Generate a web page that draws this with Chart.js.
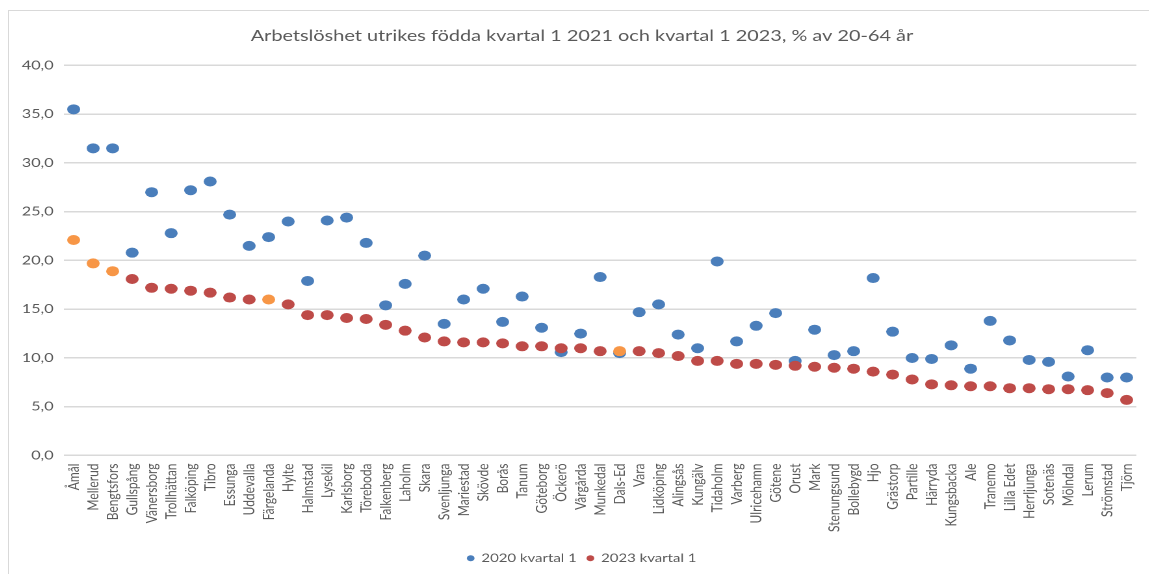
<!DOCTYPE html>
<html>
<head>
<meta charset="utf-8">
<script src="https://cdn.jsdelivr.net/npm/chart.js@4.4.0/dist/chart.umd.min.js"></script>
<style>
  html, body { margin: 0; padding: 0; background: #ffffff; overflow: hidden; width: 1149px; height: 574px; }
  #frame { position: absolute; left: 8px; top: 10px; width: 2000px; height: 1000px;
           border-left: 1.5px solid #d9d9d9; border-top: 1.5px solid #d9d9d9; }
  #wrap { position: absolute; left: 8px; top: 10px; width: 883px; height: 564px;
          transform: scaleX(1.3); transform-origin: 0 0; }
</style>
</head>
<body>
<div id="frame"></div>
<div id="wrap"><canvas id="c"></canvas></div>
<script>
const chartTitle = "Arbetslöshet utrikes födda kvartal 1 2021 och kvartal 1 2023, % av 20-64 år";
const categories = ["Åmål","Mellerud","Bengtsfors","Gullspång","Vänersborg","Trollhättan","Falköping","Tibro","Essunga","Uddevalla","Färgelanda","Hylte","Halmstad","Lysekil","Karlsborg","Töreboda","Falkenberg","Laholm","Skara","Svenljunga","Mariestad","Skövde","Borås","Tanum","Göteborg","Öckerö","Vårgårda","Munkedal","Dals-Ed","Vara","Lidköping","Alingsås","Kungälv","Tidaholm","Varberg","Ulricehamn","Götene","Orust","Mark","Stenungsund","Bollebygd","Hjo","Grästorp","Partille","Härryda","Kungsbacka","Ale","Tranemo","Lilla Edet","Herrljunga","Sotenäs","Mölndal","Lerum","Strömstad","Tjörn"];
const seriesNames = ["2020 kvartal 1", "2023 kvartal 1"];
const values2020 = [35.5,31.5,31.5,20.8,27.0,22.8,27.2,28.1,24.7,21.5,22.4,24.0,17.9,24.1,24.4,21.8,15.4,17.6,20.5,13.5,16.0,17.1,13.7,16.3,13.1,10.6,12.5,18.3,10.5,14.7,15.5,12.4,11.0,19.9,11.7,13.3,14.6,9.7,12.9,10.3,10.7,18.2,12.7,10.0,9.9,11.3,8.9,13.8,11.8,9.8,9.6,8.1,10.8,8.0,8.0];
const values2023 = [22.1,19.7,18.9,18.1,17.2,17.1,16.9,16.7,16.2,16.0,16.0,15.5,14.4,14.4,14.1,14.0,13.4,12.8,12.1,11.7,11.6,11.6,11.5,11.2,11.2,11.0,11.0,10.7,10.7,10.7,10.5,10.2,9.7,9.7,9.4,9.4,9.3,9.2,9.1,9.0,8.9,8.6,8.3,7.8,7.3,7.2,7.1,7.1,6.9,6.9,6.8,6.8,6.7,6.4,5.7];
const highlighted = ["Åmål","Mellerud","Bengtsfors","Färgelanda","Dals-Ed"];
const yTicks = [0,5,10,15,20,25,30,35,40];

const blue = "#4a7ebb", red = "#be4b48", orange = "#f79646";
const seriesColors = [blue, red];
const colors2023 = categories.map(c => highlighted.includes(c) ? orange : red);
const fontFamily = "Lato, 'Open Sans', sans-serif";
const textColor = "#595959";

new Chart(document.getElementById("c"), {
  type: "line",
  data: {
    labels: categories,
    datasets: [
      { label: seriesNames[0], data: values2020, showLine: false, order: 1,
        pointRadius: 5, pointHoverRadius: 5, pointBorderWidth: 0,
        backgroundColor: blue, borderColor: blue, pointBackgroundColor: blue, pointBorderColor: blue },
      { label: seriesNames[1], data: values2023, showLine: false, order: 0,
        pointRadius: 5, pointHoverRadius: 5, pointBorderWidth: 0,
        backgroundColor: red, borderColor: red, pointBackgroundColor: colors2023, pointBorderColor: colors2023 }
    ]
  },
  options: {
    responsive: true,
    maintainAspectRatio: false,
    animation: false,
    devicePixelRatio: 2,
    layout: { padding: { left: 0, right: 0, top: 0, bottom: 0 } },
    plugins: {
      tooltip: { enabled: false },
      title: {
        display: true, text: chartTitle, color: textColor,
        font: { family: fontFamily, size: 15.3, weight: "normal", lineHeight: 1.2 },
        padding: { top: 16.8, bottom: 20.3 }
      },
      legend: {
        position: "bottom",
        labels: {
          usePointStyle: true, pointStyle: "circle", boxWidth: 5, boxHeight: 4.2,
          padding: 8, color: textColor,
          font: { family: fontFamily, size: 11.5 },
          sort: (a, b) => a.datasetIndex - b.datasetIndex,
          generateLabels: (chart) => Chart.defaults.plugins.legend.labels.generateLabels(chart)
            .map(l => Object.assign(l, { fillStyle: seriesColors[l.datasetIndex], strokeStyle: seriesColors[l.datasetIndex], lineWidth: 0 }))
        }
      }
    },
    scales: {
      x: {
        type: "category",
        offset: true,
        grid: { display: false, drawTicks: false },
        border: { display: false },
        ticks: { autoSkip: false, maxRotation: 90, minRotation: 90, padding: 8, color: textColor,
                 font: { family: fontFamily, size: 12 } },
        afterFit: (s) => { s.height = 89; }
      },
      y: {
        min: 0, max: 40,
        afterBuildTicks: (s) => { s.ticks = yTicks.map(v => ({ value: v })); },
        grid: { color: "#d9d9d9", lineWidth: 1.5, drawTicks: false },
        border: { display: false },
        ticks: { padding: 8, color: textColor, font: { family: fontFamily, size: 12.4 },
                 callback: (v) => Number(v).toFixed(1).replace(".", ",") },
        afterFit: (s) => { s.width = 43; }
      },
      yRightSpace: {
        type: "linear", position: "right", min: 0, max: 40,
        grid: { display: false, drawTicks: false },
        border: { display: false },
        ticks: { display: false },
        afterFit: (s) => { s.width = 13; }
      }
    }
  }
});
</script>
</body>
</html>
